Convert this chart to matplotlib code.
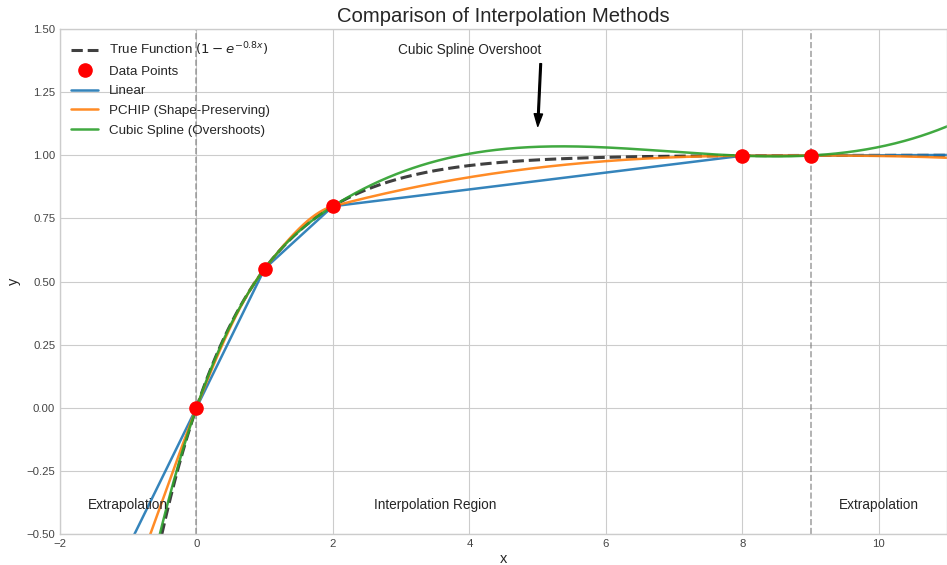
import numpy as np
import matplotlib
matplotlib.use('Agg')
import matplotlib.pyplot as plt

plt.style.use('seaborn-v0_8-whitegrid')
plt.rcParams['font.family'] = ['Liberation Sans', 'DejaVu Sans']

# Sample points
x_data = np.array([0, 1, 2, 8, 9], dtype=float)
y_data = np.array([0.0, 0.551, 0.798, 0.998, 0.999])

# Labels
title = 'Comparison of Interpolation Methods'
true_label = r'True Function $(1 - e^{-0.8x})$'
method_labels = ['Linear', 'PCHIP (Shape-Preserving)', 'Cubic Spline (Overshoots)']
method_colors = ['#1f77b4', '#ff7f0e', '#2ca02c']
region_labels = ['Extrapolation', 'Interpolation Region', 'Extrapolation']
region_x = [-1, 3.5, 10]


def interval_index(x, xq):
    return np.clip(np.searchsorted(x, xq) - 1, 0, len(x) - 2)


def linear_interp(x, y, xq):
    i = interval_index(x, xq)
    slope = (y[i + 1] - y[i]) / (x[i + 1] - x[i])
    return y[i] + slope * (xq - x[i])


def pchip_interp(x, y, xq):
    h = np.diff(x)
    delta = np.diff(y) / h
    n = len(x)
    d = np.zeros(n)
    for k in range(1, n - 1):
        if delta[k - 1] * delta[k] > 0:
            w1 = 2 * h[k] + h[k - 1]
            w2 = h[k] + 2 * h[k - 1]
            d[k] = (w1 + w2) / (w1 / delta[k - 1] + w2 / delta[k])

    def edge(h0, h1, m0, m1):
        dd = ((2 * h0 + h1) * m0 - h0 * m1) / (h0 + h1)
        if np.sign(dd) != np.sign(m0):
            dd = 0.0
        elif np.sign(m0) != np.sign(m1) and abs(dd) > abs(3 * m0):
            dd = 3 * m0
        return dd

    d[0] = edge(h[0], h[1], delta[0], delta[1])
    d[-1] = edge(h[-1], h[-2], delta[-1], delta[-2])
    i = interval_index(x, xq)
    hh = h[i]
    t = (xq - x[i]) / hh
    h00 = 2 * t**3 - 3 * t**2 + 1
    h10 = t**3 - 2 * t**2 + t
    h01 = -2 * t**3 + 3 * t**2
    h11 = t**3 - t**2
    return h00 * y[i] + h10 * hh * d[i] + h01 * y[i + 1] + h11 * hh * d[i + 1]


def cubic_spline_nak(x, y, xq):
    # not-a-knot cubic spline, piecewise a + b t + c t^2 + d t^3
    m = len(x) - 1
    h = np.diff(x)
    A = np.zeros((4 * m, 4 * m))
    b = np.zeros(4 * m)
    r = 0
    for i in range(m):
        c = 4 * i
        A[r, c] = 1; b[r] = y[i]; r += 1
        A[r, c:c + 4] = [1, h[i], h[i]**2, h[i]**3]; b[r] = y[i + 1]; r += 1
    for k in range(1, m):
        p, c = 4 * (k - 1), 4 * k
        A[r, p:p + 4] = [0, 1, 2 * h[k - 1], 3 * h[k - 1]**2]; A[r, c + 1] = -1; r += 1
        A[r, p:p + 4] = [0, 0, 2, 6 * h[k - 1]]; A[r, c + 2] = -2; r += 1
    A[r, 3] = 1; A[r, 7] = -1; r += 1
    A[r, 4 * (m - 2) + 3] = 1; A[r, 4 * (m - 1) + 3] = -1
    coef = np.linalg.solve(A, b).reshape(m, 4)
    i = interval_index(x, xq)
    t = xq - x[i]
    co = coef[i]
    return co[:, 0] + co[:, 1] * t + co[:, 2] * t**2 + co[:, 3] * t**3


x_fine = np.linspace(-1, 11, 600)
y_true = 1 - np.exp(-0.8 * x_fine)
curves = [linear_interp(x_data, y_data, x_fine),
          pchip_interp(x_data, y_data, x_fine),
          cubic_spline_nak(x_data, y_data, x_fine)]

fig = plt.figure(figsize=(9.47, 5.65), dpi=100)
ax = fig.add_axes([60 / 947, 31 / 565, 887 / 947, 505 / 565])

ax.plot(x_fine, y_true, '--', color='black', alpha=0.75, lw=2.2, label=true_label)
ax.plot(x_data, y_data, 'o', color='red', markersize=9.5, zorder=5, label='Data Points')
for yc, lab, col in zip(curves, method_labels, method_colors):
    ax.plot(x_fine, yc, color=col, lw=1.8, alpha=0.9, label=lab)

ax.axvline(x=x_data[0], color='gray', linestyle='--', alpha=0.7, lw=1.2)
ax.axvline(x=x_data[-1], color='gray', linestyle='--', alpha=0.7, lw=1.2)

for xt, lab in zip(region_x, region_labels):
    ax.text(xt, -0.385, lab, ha='center', va='center', fontsize=9.8, color='#262626')

ax.annotate('Cubic Spline Overshoot', xy=(5, 1.1), xytext=(4, 1.4), ha='center',
            fontsize=9.8, color='#262626',
            arrowprops=dict(facecolor='black', shrink=0.05, width=1.2, headwidth=6, headlength=9))

ax.set_xlim(-2, 11)
ax.set_ylim(-0.5, 1.5)
ax.set_yticks(np.arange(-0.5, 1.51, 0.25))
ax.set_title(title, fontsize=14.6, color='#262626', pad=5)
ax.set_xlabel('x', fontsize=10.5, labelpad=2)
ax.set_ylabel('y', fontsize=10.5)
ax.tick_params(labelsize=8.2, colors='#444444')
ax.legend(loc='upper left', fontsize=9.6, labelspacing=0.55, borderaxespad=0.45)

fig.savefig('out.png', dpi=100)
